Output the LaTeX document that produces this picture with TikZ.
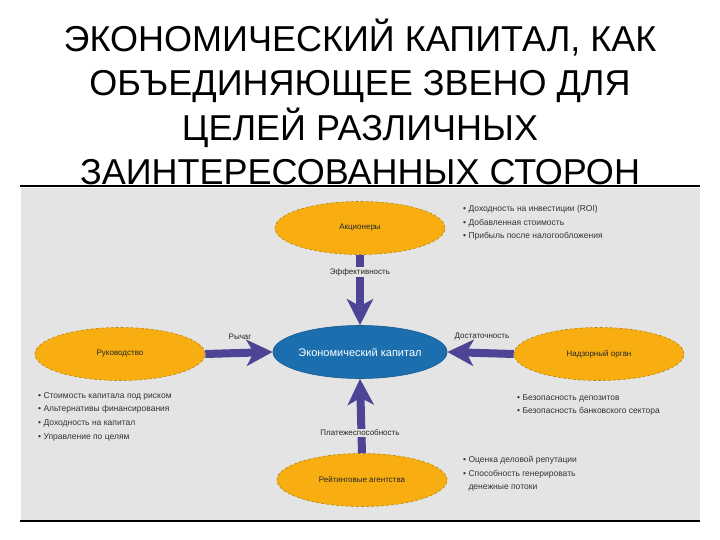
\documentclass[tikz,border=0pt]{standalone}
\usepackage{fontspec}
\setmainfont{Liberation Sans}
\usetikzlibrary{arrows.meta,shapes.geometric}
\definecolor{panel}{HTML}{E4E4E4}
\definecolor{orfill}{HTML}{F8AE10}
\definecolor{orline}{HTML}{B8860B}
\definecolor{bluefill}{HTML}{1B6FAE}
\definecolor{arrowc}{HTML}{4E4495}
\tikzset{
  stake/.style={ellipse, fill=orfill, draw=orline, densely dashed, line width=0.6pt, minimum width=170pt, minimum height=53pt, inner sep=0pt, font=\fontsize{8}{9}\selectfont, text=black!85},
  core/.style={ellipse, fill=bluefill, draw=bluefill!80!black, line width=0.6pt, minimum width=158pt, minimum height=53pt, inner sep=0pt, font=\fontsize{11}{12}\selectfont, text=white},
  bigarrow/.style={draw=arrowc, line width=8pt, -{Stealth[width=26pt,length=26pt,inset=7pt]}},
  arrlabel/.style={fill=panel, inner sep=1.5pt, font=\fontsize{8}{9}\selectfont, text=black!85},
  blist/.style={anchor=north west, align=left, inner sep=0pt, font=\fontsize{8.5}{13.7}\selectfont, text=black!80},
  ttl/.style={font=\fontsize{36}{44.5}\selectfont, align=center, text=black}
}
\begin{document}
\begin{tikzpicture}[x=1pt,y=-1pt]
\useasboundingbox (0,0) rectangle (720,540);
\fill[white] (0,0) rectangle (720,540);
% title
\node[ttl] (title) at (360,102) {ЭКОНОМИЧЕСКИЙ КАПИТАЛ, КАК\\ОБЪЕДИНЯЮЩЕЕ ЗВЕНО ДЛЯ\\ЦЕЛЕЙ РАЗЛИЧНЫХ\\ЗАИНТЕРЕСОВАННЫХ СТОРОН};
% panel
\fill[panel] (21,188) rectangle (700,520);
\draw[line width=1.5pt] (20,186) -- (700,186);
\draw[line width=1.5pt] (20,521) -- (700,521);
% nodes
\node[stake] (sh) at (360,228) {Акционеры};
\node[stake] (mg) at (120,354) {Руководство};
\node[stake] (rg) at (599,354) {Надзорный орган};
\node[stake] (ra) at (362,480) {Рейтинговые агентства};
\node[core] (ec) at (360,352) {Экономический капитал};
% arrows
\draw[bigarrow] (sh.south) -- (ec.north);
\draw[bigarrow] (ra.north) -- (ec.south);
\draw[bigarrow] (mg.east) -- (ec.west);
\draw[bigarrow] (rg.west) -- (ec.east);
% arrow labels
\node[arrlabel] (l1) at (360,272) {Эффективность};
\node[arrlabel] (l2) at (360,433) {Платежеспособность};
\node[font=\fontsize{8}{9}\selectfont, text=black!85] (l3) at (240,337) {Рычаг};
\node[font=\fontsize{8}{9}\selectfont, text=black!85] (l4) at (482,337) {Достаточность};
% bullet lists
\node[blist] (b1) at (463,205) {• Доходность на инвестиции (ROI)\\• Добавленная стоимость\\• Прибыль после налогообложения};
\node[blist] (b2) at (38,392) {• Стоимость капитала под риском\\• Альтернативы финансирования\\• Доходность на капитал\\• Управление по целям};
\node[blist] (b3) at (517,394) {• Безопасность депозитов\\• Безопасность банковского сектора};
\node[blist] (b4) at (463,456) {• Оценка деловой репутации\\• Способность генерировать\\\phantom{• }денежные потоки};
\end{tikzpicture}
\end{document}
